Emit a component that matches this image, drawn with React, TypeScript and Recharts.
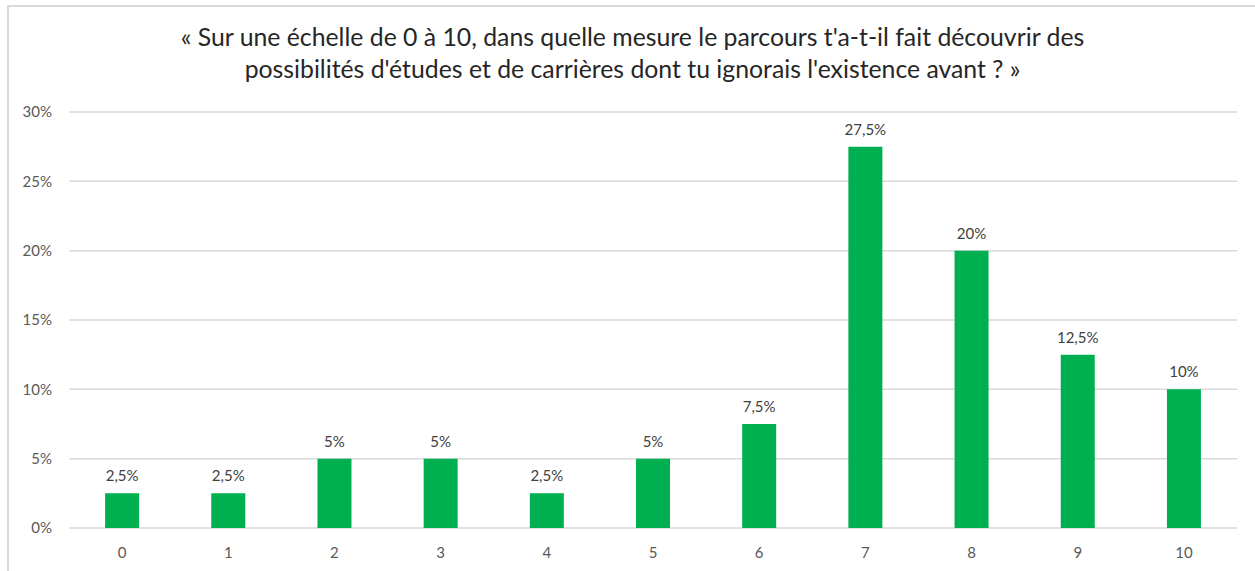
import React from "react";
import { BarChart, Bar, XAxis, YAxis, CartesianGrid, LabelList } from "recharts";

const titleLines = [
  "« Sur une échelle de 0 à 10, dans quelle mesure le parcours t'a-t-il fait découvrir des",
  "possibilités d'études et de carrières dont tu ignorais l'existence avant ? »",
];
const categories = ["0", "1", "2", "3", "4", "5", "6", "7", "8", "9", "10"];
const values = [2.5, 2.5, 5, 5, 2.5, 5, 7.5, 27.5, 20, 12.5, 10];
const yTicks = [0, 5, 10, 15, 20, 25, 30];

const data = categories.map((c, i) => ({ name: c, value: values[i] }));
const fmt = (v: number) => `${String(v).replace(".", ",")}%`;
const FONT = "Lato, 'Open Sans', sans-serif";

export default function App() {
  return (
    <div style={{ position: "absolute", left: 0, top: 0, width: 1255, height: 571, background: "#fff", fontFamily: FONT }}>
      <div style={{ position: "absolute", left: 7, top: 5, width: 1248, height: 566, borderLeft: "2px solid #d9d9d9", borderTop: "2px solid #d9d9d9" }} />
      <div style={{ position: "absolute", left: 0, top: 21, width: 1265, textAlign: "center", fontSize: 24.8, lineHeight: "32px", color: "#262626" }}>
        {titleLines.map((t, i) => (
          <div key={i}>{t}</div>
        ))}
      </div>
      <div style={{ position: "absolute", left: 0, top: 0 }}>
        <BarChart width={1255} height={571} data={data} margin={{ top: 112, right: 18, left: 0, bottom: 13 }} barCategoryGap="34%">
          <CartesianGrid vertical={false} stroke="#d9d9d9" strokeWidth={1.5} />
          <XAxis dataKey="name" axisLine={false} tickLine={false} tickSize={0} tickMargin={19} height={30}
            tick={{ fill: "#595959", fontSize: 15, fontFamily: FONT }} />
          <YAxis width={69} domain={[0, 30]} ticks={yTicks} tickFormatter={(v: number) => `${v}%`} axisLine={false} tickLine={false}
            tickSize={0} tickMargin={17} tick={{ fill: "#595959", fontSize: 15, fontFamily: FONT }} />
          <Bar dataKey="value" fill="#00b050" isAnimationActive={false}>
            <LabelList dataKey="value" position="top" offset={12} formatter={fmt as any}
              style={{ fill: "#404040", fontSize: 15, fontFamily: FONT }} />
          </Bar>
        </BarChart>
      </div>
    </div>
  );
}
